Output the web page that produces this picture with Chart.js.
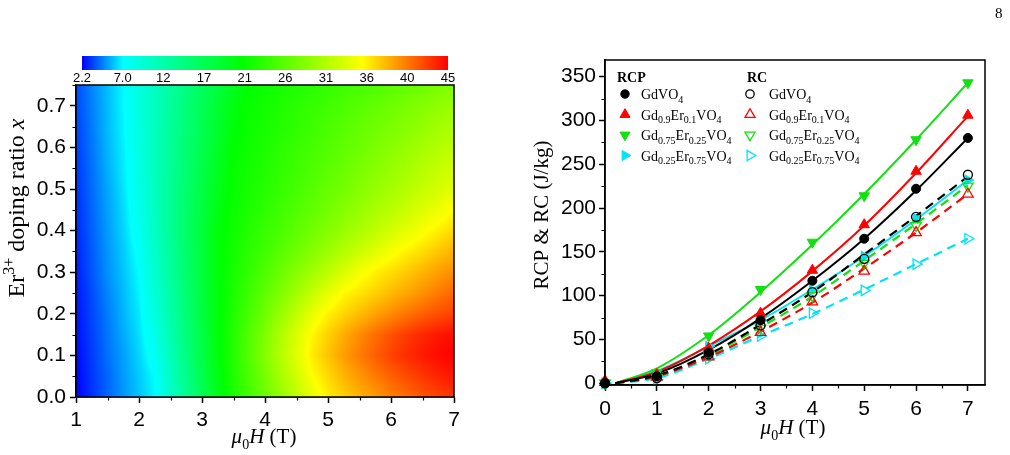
<!DOCTYPE html>
<html>
<head>
<meta charset="utf-8">
<script src="https://cdn.jsdelivr.net/npm/chart.js@4.4.1/dist/chart.umd.min.js"></script>
<style>
  html, body { margin: 0; padding: 0; background: #fff; }
  #wrap { position: relative; width: 1010px; height: 455px; overflow: hidden; }
  #mapCanvas { position: absolute; left: 0; top: 0; }
  #lineCanvas { position: absolute; left: 480px; top: 0; }
  #pageNo { position: absolute; left: 995px; top: 5px; font: 15px "Liberation Serif"; }
</style>
</head>
<body>
<div id="wrap">
  <canvas id="mapCanvas" width="480" height="455"></canvas>
  <canvas id="lineCanvas" width="530" height="455"></canvas>
  <div id="pageNo">8</div>
</div>
<script>
// ── DATA: LEFT PANEL (colour map) ────────────────────────────────────────────

const FIELD_H = [1, 1.25, 1.5, 1.75, 2, 2.25, 2.5, 2.75, 3, 3.25, 3.5, 3.75, 4,
  4.25, 4.5, 4.75, 5, 5.25, 5.5, 5.75, 6, 6.25, 6.5, 6.75, 7];
const DOPING_X = [0, 0.05, 0.1, 0.15, 0.2, 0.25, 0.3, 0.35, 0.4, 0.45, 0.5, 0.55, 0.6, 0.65, 0.7, 0.75];
// one row per doping ratio, one value per field step
const FIELD_VALUES = [
  [2.2, 3.1, 4.1, 5.0, 5.9, 6.9, 9.9, 13.1, 16.4, 19.7, 22.4, 24.6, 26.9, 29.1, 31.4, 33.6, 35.6, 36.8, 37.9, 38.9, 39.9, 40.8, 41.6, 42.4, 43.0],
  [2.2, 3.2, 4.1, 5.1, 6.0, 7.0, 10.3, 13.5, 16.7, 20.0, 22.7, 25.1, 27.6, 30.1, 32.5, 35.0, 36.5, 37.9, 39.1, 40.2, 41.2, 42.1, 42.9, 43.6, 44.2],
  [2.3, 3.3, 4.3, 5.2, 6.2, 7.6, 10.8, 14.0, 17.2, 20.4, 23.1, 25.7, 28.3, 30.9, 33.4, 35.8, 37.3, 38.8, 40.1, 41.3, 42.4, 43.3, 44.0, 44.6, 45.0],
  [2.4, 3.4, 4.4, 5.4, 6.4, 8.2, 11.3, 14.3, 17.3, 20.4, 23.0, 25.5, 28.0, 30.5, 33.0, 35.3, 36.8, 38.2, 39.5, 40.7, 41.8, 42.7, 43.5, 44.1, 44.5],
  [2.5, 3.5, 4.5, 5.6, 6.6, 8.8, 11.7, 14.6, 17.5, 20.4, 22.8, 24.9, 27.1, 29.3, 31.5, 33.7, 35.5, 36.6, 37.6, 38.6, 39.5, 40.4, 41.2, 41.9, 42.5],
  [2.6, 3.6, 4.7, 5.7, 6.8, 9.2, 12.0, 14.8, 17.6, 20.4, 22.5, 24.3, 26.2, 28.0, 29.8, 31.7, 33.5, 35.2, 36.0, 36.8, 37.7, 38.5, 39.3, 40.2, 41.0],
  [2.7, 3.8, 4.9, 5.9, 7.0, 9.7, 12.4, 15.1, 17.8, 20.5, 22.2, 23.7, 25.3, 26.8, 28.3, 29.8, 31.3, 32.9, 34.4, 35.5, 36.3, 37.1, 37.9, 38.7, 39.5],
  [2.8, 3.9, 5.0, 6.0, 7.3, 9.9, 12.5, 15.2, 17.8, 20.5, 22.0, 23.3, 24.5, 25.8, 27.0, 28.3, 29.5, 30.8, 32.0, 33.3, 34.5, 35.5, 36.3, 37.2, 38.0],
  [2.9, 4.0, 5.1, 6.2, 7.7, 10.3, 12.8, 15.4, 17.9, 20.5, 21.8, 22.9, 24.0, 25.0, 26.1, 27.2, 28.2, 29.3, 30.3, 31.4, 32.5, 33.5, 34.6, 35.6, 36.5],
  [3.0, 4.1, 5.2, 6.3, 8.0, 10.4, 12.8, 15.2, 17.6, 20.0, 21.6, 22.5, 23.5, 24.5, 25.4, 26.4, 27.3, 28.3, 29.3, 30.2, 31.2, 32.1, 33.1, 34.0, 35.0],
  [3.1, 4.2, 5.3, 6.5, 8.2, 10.5, 12.8, 15.1, 17.3, 19.6, 21.3, 22.2, 23.1, 23.9, 24.8, 25.7, 26.6, 27.4, 28.3, 29.2, 30.0, 30.9, 31.8, 32.6, 33.5],
  [3.2, 4.3, 5.5, 6.6, 8.4, 10.6, 12.7, 14.9, 17.1, 19.3, 21.2, 22.0, 22.8, 23.6, 24.4, 25.2, 26.0, 26.8, 27.6, 28.4, 29.2, 30.0, 30.9, 31.7, 32.5],
  [3.3, 4.4, 5.6, 6.7, 8.5, 10.6, 12.7, 14.8, 16.8, 18.9, 21.0, 21.8, 22.5, 23.3, 24.0, 24.8, 25.5, 26.3, 27.0, 27.8, 28.5, 29.3, 30.0, 30.8, 31.5],
  [3.4, 4.5, 5.7, 6.8, 8.6, 10.6, 12.6, 14.6, 16.6, 18.6, 20.6, 21.6, 22.2, 22.9, 23.6, 24.3, 25.0, 25.7, 26.4, 27.1, 27.7, 28.4, 29.1, 29.8, 30.5],
  [3.5, 4.6, 5.7, 6.9, 8.7, 10.6, 12.5, 14.4, 16.4, 18.3, 20.2, 21.4, 22.0, 22.6, 23.3, 23.9, 24.5, 25.1, 25.8, 26.4, 27.0, 27.6, 28.3, 28.9, 29.5],
  [3.6, 4.7, 5.8, 6.9, 8.7, 10.5, 12.3, 14.1, 15.9, 17.7, 19.5, 21.1, 21.6, 22.2, 22.7, 23.2, 23.8, 24.3, 24.8, 25.3, 25.9, 26.4, 26.9, 27.5, 28.0]
];
const MAP_X_TICKS = [1, 2, 3, 4, 5, 6, 7];
const MAP_Y_TICKS = [0, 0.1, 0.2, 0.3, 0.4, 0.5, 0.6, 0.7];
const COLORBAR_TICKS = ["2.2", "7.0", "12", "17", "21", "26", "31", "36", "40", "45"];

// ── DATA: RIGHT PANEL (RCP & RC) ─────────────────────────────────────────────

const SAMPLE_LABELS = ["GdVO_4", "Gd_0.9Er_0.1VO_4", "Gd_0.75Er_0.25VO_4", "Gd_0.25Er_0.75VO_4"];
const FIELD_PTS = [0, 1, 2, 3, 4, 5, 6, 7];
const RCP_GD = [0, 8, 35, 72, 117, 165, 222, 280];
const RCP_ER010 = [3, 10, 40, 80, 129, 181, 242, 306];
const RCP_ER025 = [0, 12, 54, 107, 161, 214, 278, 343];
const RCP_ER075 = [0, 9, 42, 72, 106, 145, 188, 232];
const RC_GD = [0, 6, 33, 66, 104, 142, 190, 238];
const RC_ER010 = [1, 7, 30, 58, 93, 128, 172, 216];
const RC_ER025 = [0, 6, 32, 63, 100, 137, 180, 225];
const RC_ER075 = [0, 4, 28, 54, 80, 106, 136, 165];

const FIELD_FIT = [0.2, 1, 2, 3, 4, 5, 6, 7];
const FIT_RCP_GD = [0, 11, 38, 74, 117, 165, 220, 280];
const FIT_RCP_ER010 = [0, 13, 43, 82, 128, 180, 240, 305];
const FIT_RCP_ER025 = [0, 17, 55, 104, 158, 216, 278, 343];
const FIT_RCP_ER075 = [0, 14, 42, 72, 107, 145, 187, 232];
const FIT_RC_GD = [0, 9, 33, 67, 104, 147, 191, 236];
const FIT_RC_ER010 = [0, 8, 30, 59, 92, 131, 172, 216];
const FIT_RC_ER025 = [0, 8, 32, 64, 99, 140, 182, 226];
const FIT_RC_ER075 = [0, 6, 28, 54, 79, 107, 136, 165];

const LINE_X_TICKS = [0, 1, 2, 3, 4, 5, 6, 7];
const LINE_Y_TICKS = [0, 50, 100, 150, 200, 250, 300, 350];

// ── HELPERS ──────────────────────────────────────────────────────────────────

const COLOR_STOPS = [2.2, 7, 21, 35, 45];
const COLOR_RGB = [[0, 0, 255], [0, 255, 255], [0, 255, 0], [255, 255, 0], [255, 0, 0]];

function rgbFor(v) {
  if (v <= COLOR_STOPS[0]) return COLOR_RGB[0];
  for (let i = 1; i < COLOR_STOPS.length; i++) {
    if (v <= COLOR_STOPS[i]) {
      const t = (v - COLOR_STOPS[i - 1]) / (COLOR_STOPS[i] - COLOR_STOPS[i - 1]);
      const a = COLOR_RGB[i - 1], b = COLOR_RGB[i];
      return a.map((c, k) => Math.round(c + (b[k] - c) * t));
    }
  }
  return COLOR_RGB[COLOR_RGB.length - 1];
}

// locate a value inside a grid axis: [lower index, fraction]
function gridPos(arr, v) {
  let i = 0;
  while (i < arr.length - 2 && v > arr[i + 1]) i++;
  const t = (v - arr[i]) / (arr[i + 1] - arr[i]);
  return [i, Math.min(1, Math.max(0, t))];
}

function fontFor(p, size, family) {
  const s = p.sub || p.sup ? Math.round(size * 0.68) : size;
  return `${p.it ? "italic " : ""}${p.b ? "bold " : ""}${s}px ${family}`;
}

function richWidth(ctx, parts, size, family) {
  let w = 0;
  parts.forEach(p => { ctx.font = fontFor(p, size, family); w += ctx.measureText(p.t).width; });
  return w;
}

function drawRich(ctx, parts, x, y, size, family, align) {
  let cx = align === "center" ? x - richWidth(ctx, parts, size, family) / 2 : x;
  ctx.textAlign = "left";
  ctx.textBaseline = "alphabetic";
  parts.forEach(p => {
    ctx.font = fontFor(p, size, family);
    const dy = p.sub ? size * 0.28 : p.sup ? -size * 0.38 : 0;
    ctx.fillText(p.t, cx, y + dy);
    cx += ctx.measureText(p.t).width;
  });
}

function chemParts(label) {
  return label.split(/_([0-9.]+)/).filter(s => s !== "").map(t => ({ t, sub: /^[0-9.]+$/.test(t) }));
}

const SERIF = '"Liberation Serif", "Times New Roman", serif';
const MU0H = [{ t: "μ", it: true }, { t: "0", sub: true }, { t: "H", it: true }, { t: " (T)" }];

// frame + minor ticks, shared by both panels
const framePlugin = {
  id: "frame",
  afterDraw(chart, args, opts) {
    const { ctx, chartArea: a, scales: { x, y } } = chart;
    ctx.save();
    ctx.strokeStyle = "#000";
    ctx.lineWidth = 1.5;
    ctx.strokeRect(a.left, a.top, a.width, a.height);
    ctx.lineWidth = 1.2;
    ctx.beginPath();
    for (let v = Math.ceil(x.min / opts.minorX) * opts.minorX; v <= x.max + 1e-9; v += opts.minorX) {
      if (x.ticks.some(t => Math.abs(t.value - v) < 1e-6)) continue;
      const px = Math.round(x.getPixelForValue(v)) + 0.5;
      ctx.moveTo(px, a.bottom);
      ctx.lineTo(px, a.bottom + 3.5);
    }
    for (let v = Math.ceil(y.min / opts.minorY) * opts.minorY; v <= y.max + 1e-9; v += opts.minorY) {
      if (y.ticks.some(t => Math.abs(t.value - v) < 1e-6)) continue;
      const py = Math.round(y.getPixelForValue(v)) + 0.5;
      ctx.moveTo(a.left, py);
      ctx.lineTo(a.left - 3.5, py);
    }
    ctx.stroke();
    ctx.restore();
  }
};

function axisOptions(min, max, ticks, fmt, size, pad, fit) {
  return {
    type: "linear",
    min, max,
    afterBuildTicks: axis => { axis.ticks = ticks.map(v => ({ value: v })); },
    afterFit: fit,
    ticks: {
      autoSkip: false, maxRotation: 0, padding: pad, color: "#000",
      font: { family: '"Liberation Sans", Arial, sans-serif', size },
      callback: fmt
    },
    grid: { drawOnChartArea: false, drawTicks: true, tickLength: 6, tickColor: "#000", tickWidth: 1.5 },
    border: { display: true, color: "#000", width: 1.5 }
  };
}

// ── LEFT PANEL: COLOUR MAP ───────────────────────────────────────────────────

const heatmapPlugin = {
  id: "heatmap",
  beforeDatasetsDraw(chart) {
    const { ctx, chartArea: a, scales: { x, y } } = chart;
    const w = Math.round(a.width), h = Math.round(a.height);
    const off = document.createElement("canvas");
    off.width = w;
    off.height = h;
    const octx = off.getContext("2d");
    const img = octx.createImageData(w, h);
    // shaded contour: each pixel goes back through the scales to the data grid
    for (let py = 0; py < h; py++) {
      const [j, ty] = gridPos(DOPING_X, y.getValueForPixel(a.top + py + 0.5));
      const r0 = FIELD_VALUES[j], r1 = FIELD_VALUES[j + 1];
      for (let px = 0; px < w; px++) {
        const [i, tx] = gridPos(FIELD_H, x.getValueForPixel(a.left + px + 0.5));
        const lo = r0[i] + (r0[i + 1] - r0[i]) * tx;
        const hi = r1[i] + (r1[i + 1] - r1[i]) * tx;
        const rgb = rgbFor(lo + (hi - lo) * ty);
        const k = (py * w + px) * 4;
        img.data[k] = rgb[0];
        img.data[k + 1] = rgb[1];
        img.data[k + 2] = rgb[2];
        img.data[k + 3] = 255;
      }
    }
    octx.putImageData(img, 0, 0);
    ctx.drawImage(off, a.left, a.top);
  },
  afterDraw(chart) {
    const { ctx } = chart;
    // colour bar above the map
    const cbLeft = 82, cbRight = 448, cbTop = 56, cbH = 14;
    const lo = parseFloat(COLORBAR_TICKS[0]), hi = parseFloat(COLORBAR_TICKS[COLORBAR_TICKS.length - 1]);
    ctx.save();
    for (let px = cbLeft; px < cbRight; px++) {
      ctx.fillStyle = `rgb(${rgbFor(lo + (px - cbLeft + 0.5) / (cbRight - cbLeft) * (hi - lo)).join(",")})`;
      ctx.fillRect(px, cbTop, 1, cbH);
    }
    ctx.fillStyle = "#000";
    ctx.font = '13px "Liberation Sans", Arial, sans-serif';
    ctx.textAlign = "center";
    ctx.textBaseline = "alphabetic";
    COLORBAR_TICKS.forEach((t, i) => {
      ctx.fillText(t, cbLeft + i * (cbRight - cbLeft) / (COLORBAR_TICKS.length - 1), 82);
    });
    // axis titles
    drawRich(ctx, MU0H, 264, 443, 21, SERIF, "center");
    ctx.translate(23.5, 208);
    ctx.rotate(-Math.PI / 2);
    drawRich(ctx, [{ t: "Er" }, { t: "3+", sup: true }, { t: " doping ratio " }, { t: "x", it: true }], 0, 0, 24, SERIF, "center");
    ctx.restore();
  }
};

const mapNodes = [];
DOPING_X.forEach((d, r) => FIELD_H.forEach((h, c) => mapNodes.push({ x: h, y: d, v: FIELD_VALUES[r][c] })));

new Chart(document.getElementById("mapCanvas"), {
  type: "scatter",
  data: { datasets: [{ label: "map", data: mapNodes, pointRadius: 0 }] },
  options: {
    responsive: false,
    animation: false,
    layout: { padding: { left: 0, top: 85, right: 26, bottom: 0 } },
    plugins: { legend: { display: false }, tooltip: { enabled: false }, frame: { minorX: 0.5, minorY: 0.05 } },
    scales: {
      x: axisOptions(1, 7, MAP_X_TICKS, v => String(v), 21, 5, s => { s.height = 58; }),
      y: axisOptions(0, 0.75, MAP_Y_TICKS, v => v.toFixed(1), 21, 4, s => { s.width = 76; })
    }
  },
  plugins: [heatmapPlugin, framePlugin]
});

// ── RIGHT PANEL: RCP & RC ────────────────────────────────────────────────────

const SERIES = [
  { color: "#000000", style: "circle", rot: 0, r: 4.5, rcp: RCP_GD, rc: RC_GD, fitRcp: FIT_RCP_GD, fitRc: FIT_RC_GD },
  { color: "#ff0000", style: "triangle", rot: 0, r: 6, rcp: RCP_ER010, rc: RC_ER010, fitRcp: FIT_RCP_ER010, fitRc: FIT_RC_ER010 },
  { color: "#12e012", style: "triangle", rot: 180, r: 6, rcp: RCP_ER025, rc: RC_ER025, fitRcp: FIT_RCP_ER025, fitRc: FIT_RC_ER025 },
  { color: "#00e4f4", style: "triangle", rot: 90, r: 6, rcp: RCP_ER075, rc: RC_ER075, fitRcp: FIT_RCP_ER075, fitRc: FIT_RC_ER075 }
];

const lineDatasets = [];
SERIES.forEach((s, i) => {
  lineDatasets.push({
    label: "RCP " + SAMPLE_LABELS[i],
    data: FIELD_PTS.map((x, k) => ({ x, y: s.rcp[k] })),
    showLine: false, pointStyle: s.style, rotation: s.rot, pointRadius: s.r,
    backgroundColor: s.color, borderColor: s.color, borderWidth: 1, order: 0, clip: false
  });
  lineDatasets.push({
    label: "RC " + SAMPLE_LABELS[i],
    data: FIELD_PTS.map((x, k) => ({ x, y: s.rc[k] })),
    showLine: false, pointStyle: s.style, rotation: s.rot, pointRadius: s.r,
    backgroundColor: "rgba(255,255,255,0)", borderColor: s.color, borderWidth: 1.3, order: 0, clip: false
  });
  lineDatasets.push({
    label: "RCP fit " + SAMPLE_LABELS[i],
    data: FIELD_FIT.map((x, k) => ({ x, y: s.fitRcp[k] })),
    showLine: true, pointRadius: 0, borderColor: s.color, borderWidth: 2,
    cubicInterpolationMode: "monotone", order: 1
  });
  lineDatasets.push({
    label: "RC fit " + SAMPLE_LABELS[i],
    data: FIELD_FIT.map((x, k) => ({ x, y: s.fitRc[k] })),
    showLine: true, pointRadius: 0, borderColor: s.color, borderWidth: 2.2, borderDash: [9, 6],
    cubicInterpolationMode: "monotone", order: 1
  });
});

const legendPlugin = {
  id: "rcLegend",
  afterDraw(chart) {
    const { ctx } = chart;
    ctx.save();
    ctx.fillStyle = "#000";
    ctx.font = `bold 14px ${SERIF}`;
    ctx.textAlign = "left";
    ctx.textBaseline = "alphabetic";
    ctx.fillText("RCP", 137, 82);
    ctx.fillText("RC", 267, 82);
    SERIES.forEach((s, i) => {
      const cy = 94 + i * 20.5;
      const r = s.style === "circle" ? 4.2 : 5.8;
      [[145, s.color, 1], [270, "rgba(255,255,255,0)", 1.3]].forEach(([mx, fill, bw]) => {
        ctx.fillStyle = fill;
        ctx.strokeStyle = s.color;
        ctx.lineWidth = bw;
        Chart.helpers.drawPoint(ctx, { pointStyle: s.style, rotation: s.rot, radius: r, borderWidth: bw }, mx, cy);
      });
      ctx.fillStyle = "#000";
      drawRich(ctx, chemParts(SAMPLE_LABELS[i]), 161, cy + 5, 14, SERIF);
      drawRich(ctx, chemParts(SAMPLE_LABELS[i]), 289, cy + 5, 14, SERIF);
    });
    // axis titles
    drawRich(ctx, MU0H, 313, 434, 21, SERIF, "center");
    ctx.translate(67.5, 215);
    ctx.rotate(-Math.PI / 2);
    drawRich(ctx, [{ t: "RCP & RC (J/kg)" }], 0, 0, 21, SERIF, "center");
    ctx.restore();
  }
};

new Chart(document.getElementById("lineCanvas"), {
  type: "scatter",
  data: { datasets: lineDatasets },
  options: {
    responsive: false,
    animation: false,
    layout: { padding: { left: 0, top: 60, right: 25, bottom: 0 } },
    plugins: { legend: { display: false }, tooltip: { enabled: false }, frame: { minorX: 0.5, minorY: 25 } },
    scales: {
      x: axisOptions(0, 7.33, LINE_X_TICKS, v => String(v), 21, 6, s => { s.height = 70; }),
      y: axisOptions(-2, 369, LINE_Y_TICKS, v => String(v), 21, 3, s => { s.width = 125; })
    }
  },
  plugins: [framePlugin, legendPlugin]
});
</script>
</body>
</html>
